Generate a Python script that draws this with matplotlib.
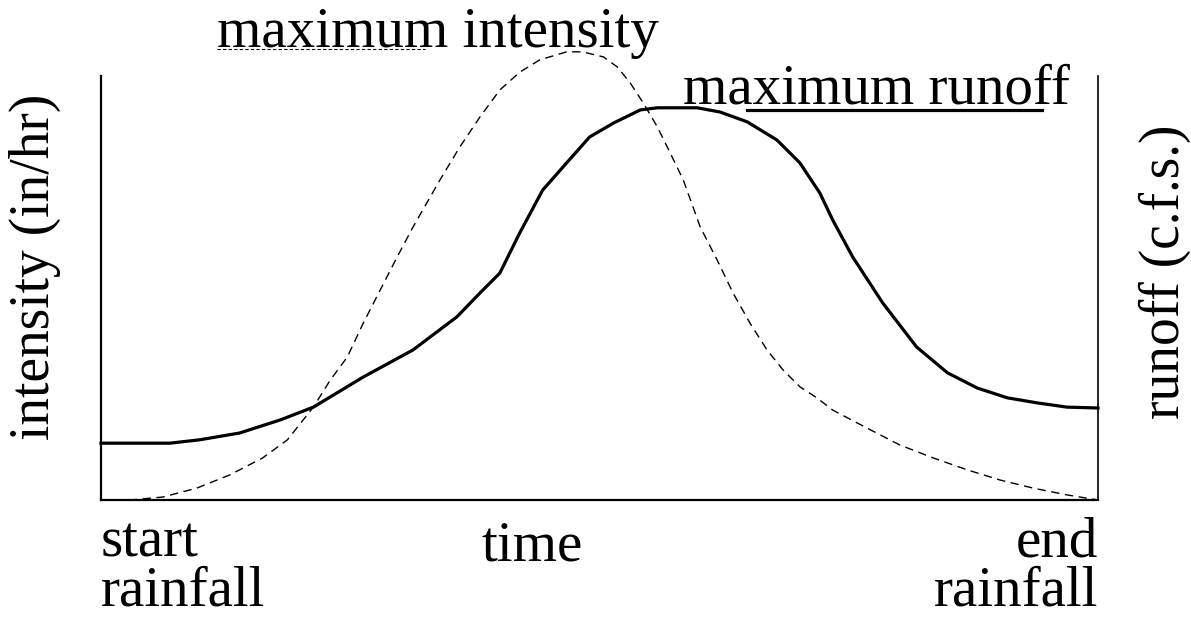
import matplotlib
matplotlib.use("Agg")
import matplotlib.pyplot as plt

# time axis runs 0..100 (start to end of rainfall), values are relative heights 0..100
intensity_t = [0, 2.9, 6.2, 9.6, 12.9, 16.2, 18.7, 21.3, 23.0, 24.7, 26.3, 28.0, 29.7,
               31.3, 34.0, 36.0, 38.0, 40.0, 42.0, 44.0, 46.7, 48.3, 50.4, 51.8, 53.1,
               54.4, 55.8, 57.1, 58.4, 60.1, 61.8, 63.4, 65.1, 66.8, 68.4, 70.1, 71.8,
               73.4, 76.8, 80.1, 83.5, 86.9, 90.2, 93.5, 96.9, 100]
intensity_v = [0, 0, 0.7, 2.8, 5.9, 9.9, 14.2, 21.9, 28.3, 33.7, 41.7, 49.5, 57.3,
               64.4, 75.5, 83.3, 90.3, 96.7, 100.9, 103.8, 105.7, 105.7, 104.5, 102.1, 98.3,
               93.6, 88.0, 81.8, 75.5, 64.4, 56.6, 48.8, 41.7, 35.4, 30.7, 26.7, 24.1,
               21.2, 17.0, 13.0, 9.9, 7.1, 4.7, 2.8, 1.2, 0]

runoff_t = [0, 6.9, 9.9, 13.9, 18.0, 21.3, 26.3, 31.3, 35.7, 38.0, 40.0, 42.0, 44.3,
            46.7, 49.0, 51.4, 54.1, 55.8, 59.8, 62.1, 64.8, 67.8, 70.1, 72.1, 73.4,
            75.4, 78.4, 81.8, 84.9, 87.9, 90.9, 93.9, 96.9, 100]
runoff_v = [13.4, 13.4, 14.2, 15.8, 18.9, 21.9, 29.0, 35.4, 43.2, 48.8, 53.5, 63.0, 73.1,
            79.5, 85.6, 88.9, 92.0, 92.5, 92.5, 91.5, 89.2, 84.9, 79.5, 72.4, 66.0,
            57.3, 46.5, 36.1, 30.0, 26.4, 24.1, 22.9, 21.9, 21.7]

FONT = "Liberation Serif"
FS = 41

fig = plt.figure(figsize=(11.91, 6.18), dpi=100)
ax = fig.add_axes([101 / 1191, 118 / 618, 997 / 1191, 424 / 618])

ax.plot(intensity_t, intensity_v, color="black", linewidth=1.0,
        linestyle=(0, (6, 4)), clip_on=False, solid_joinstyle="round")
ax.plot(runoff_t, runoff_v, color="black", linewidth=2.3, clip_on=False,
        solid_joinstyle="round")

ax.set_xlim(0, 100)
ax.set_ylim(0, 100)
ax.set_xticks([])
ax.set_yticks([])
ax.spines["top"].set_visible(False)
for side in ["left", "bottom", "right"]:
    ax.spines[side].set_color("black")
ax.spines["left"].set_linewidth(1.6)
ax.spines["bottom"].set_linewidth(1.6)
ax.spines["right"].set_linewidth(1.2)

# annotations with underlines
ax.text(11.6, 106.8, "maximum intensity", fontfamily=FONT, fontsize=FS,
        ha="left", va="baseline", clip_on=False)
ax.plot([11.6, 32.5], [106.4, 106.4], color="black", linewidth=0.8,
        linestyle=(0, (3, 2)), clip_on=False)
ax.text(58.4, 93.4, "maximum runoff", fontfamily=FONT, fontsize=FS,
        ha="left", va="baseline", clip_on=False)
ax.plot([64.8, 94.4], [92.0, 92.0], color="black", linewidth=2.3,
        clip_on=False)

# bottom labels (baseline of the last line)
ax.text(43.2, -14.2, "time", fontfamily=FONT, fontsize=FS,
        ha="center", va="baseline", clip_on=False)
ax.text(0, -24.9, "start\nrainfall", fontfamily=FONT, fontsize=FS,
        ha="left", va="baseline", multialignment="left", linespacing=0.93,
        clip_on=False)
ax.text(100, -24.9, "end\nrainfall", fontfamily=FONT, fontsize=FS,
        ha="right", va="baseline", multialignment="right", linespacing=0.93,
        clip_on=False)

# side labels
fig.text(35 / 1191, 1 - 267 / 618, "intensity (in/hr)", fontfamily=FONT,
         fontsize=40, rotation=90, ha="center", va="center")
fig.text(1165 / 1191, 1 - 272 / 618, "runoff (c.f.s.)", fontfamily=FONT,
         fontsize=40, rotation=90, ha="center", va="center")

fig.savefig("out.png", dpi=100)
